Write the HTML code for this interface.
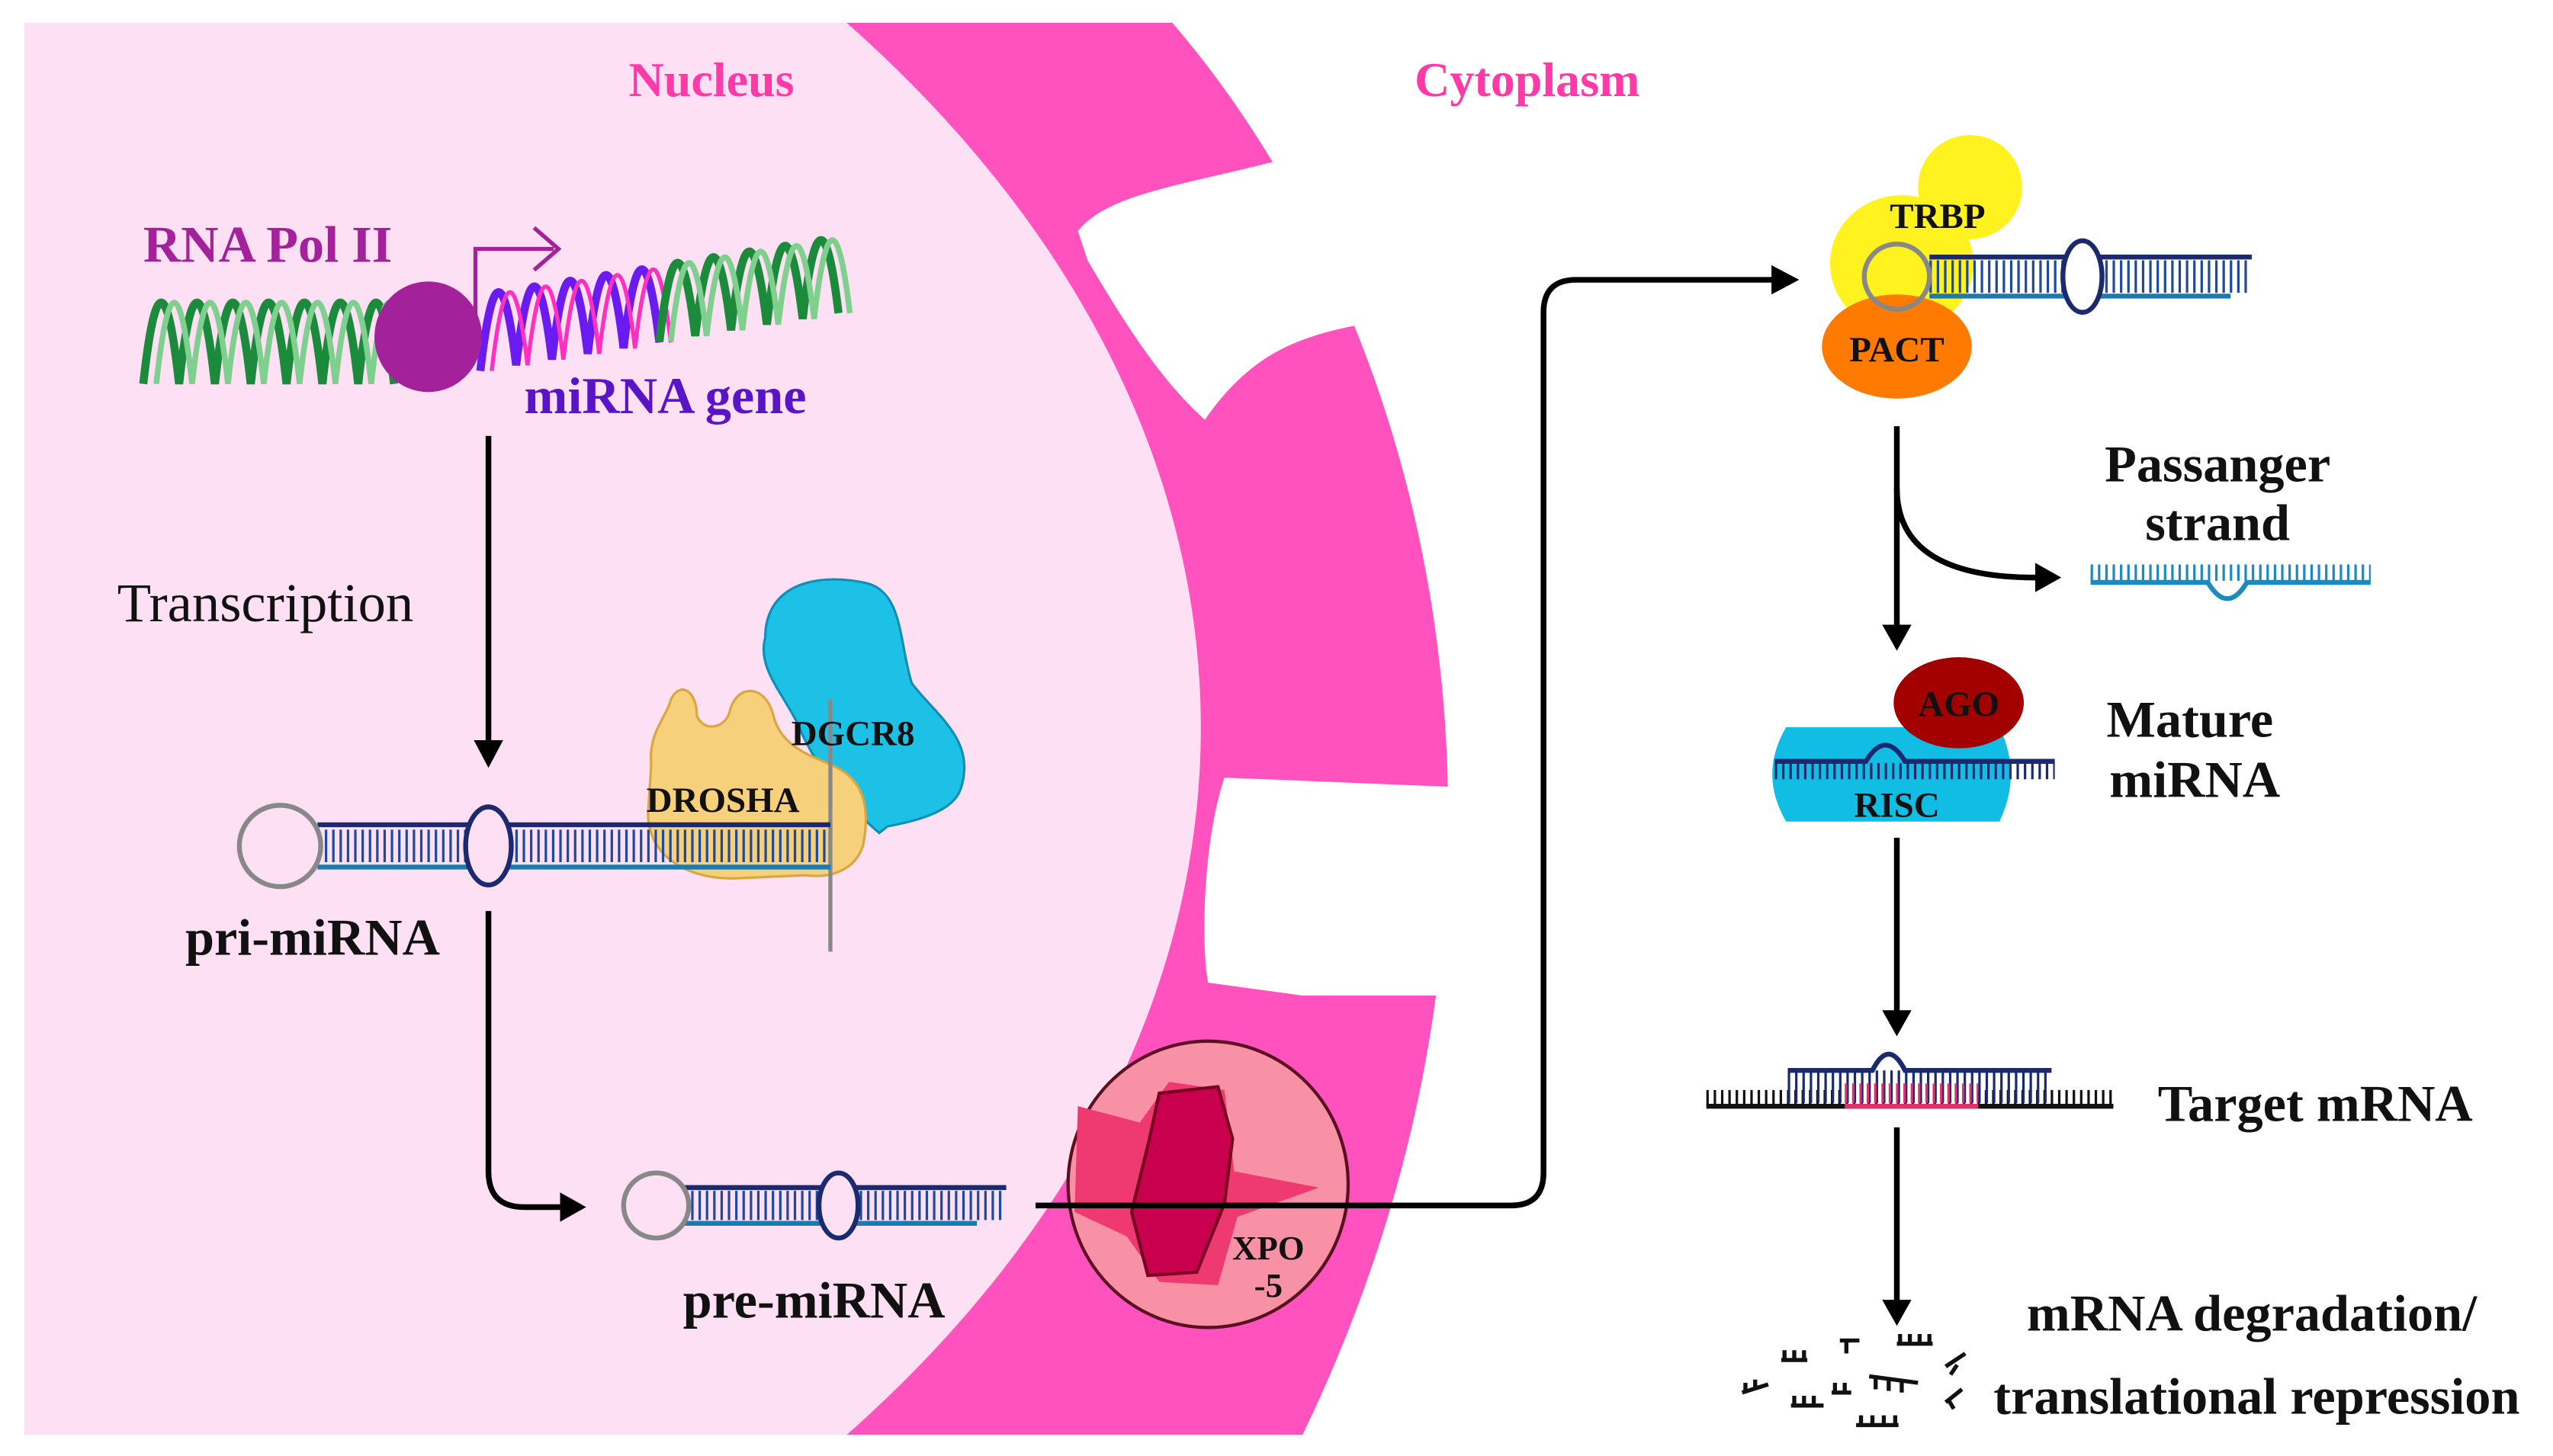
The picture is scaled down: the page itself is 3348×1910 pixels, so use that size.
<!DOCTYPE html>
<html><head><meta charset="utf-8"><style>
html,body{margin:0;padding:0;background:#fff;}
svg{display:block;}
text{font-family:"Liberation Serif",serif;}
</style></head><body>
<svg width="3348" height="1910" viewBox="0 0 1568 895" preserveAspectRatio="none" xmlns="http://www.w3.org/2000/svg">
<rect width="1568" height="895" fill="#fff"/>
<!-- nucleus -->
<path d="M15,14 L520,14 C815,275 805,630 520,882 L15,882 Z" fill="#fde0f3"/>
<path d="M520,14 L720,14 C880,200 965,540 800,882 L520,882 C805,630 815,275 520,14 Z" fill="#ff52bf"/>
<!-- pores -->
<path d="M662,142 C680,120 720,115 780,100 L900,75 L900,190 L850,197 C800,205 770,215 740,258 C720,240 700,215 668,160 Z" fill="#fff"/>
<path d="M752,478 L900,484 L900,612 L800,612 L742,604 C738,585 738,520 752,478 Z" fill="#fff"/>
<!-- labels top -->
<text x="437" y="59" font-size="30" font-weight="bold" fill="#ff3aa8" text-anchor="middle">Nucleus</text>
<text x="938" y="59" font-size="30" font-weight="bold" fill="#ff3aa8" text-anchor="middle">Cytoplasm</text>
<!-- DNA left -->
<path d="M88,236 q11,-100 22,0 q11,-100 22,0 q11,-100 22,0 q11,-100 22,0 q11,-100 22,0 q11,-100 22,0 q11,-100 22,0" fill="none" stroke="#1b8a3a" stroke-width="5"/>
<path d="M96,236 q11,-100 22,0 q11,-100 22,0 q11,-100 22,0 q11,-100 22,0 q11,-100 22,0 q11,-100 22,0 q11,-100 22,0" fill="none" stroke="#7fd08f" stroke-width="3.5"/>
<!-- DNA right -->
<path d="M295,228 q11,-95 22,-3.5 q11,-95 22,-3.5 q11,-95 22,-3.5 q11,-95 22,-3.5 q11,-95 22,-3.5" fill="none" stroke="#6a1cf0" stroke-width="5"/>
<path d="M302,228 q11,-95 22,-3.5 q11,-95 22,-3.5 q11,-95 22,-3.5 q11,-95 22,-3.5 q11,-95 22,-3.5" fill="none" stroke="#ff30c0" stroke-width="2.5"/>
<path d="M405,210 q11,-95 22,-3.5 q11,-95 22,-3.5 q11,-95 22,-3.5 q11,-95 22,-3.5 q11,-95 22,-3.5" fill="none" stroke="#1b8a3a" stroke-width="5"/>
<path d="M412,210 q11,-95 22,-3.5 q11,-95 22,-3.5 q11,-95 22,-3.5 q11,-95 22,-3.5 q11,-95 22,-3.5" fill="none" stroke="#7fd08f" stroke-width="3.5"/>
<ellipse cx="263" cy="207" rx="33" ry="34" fill="#a3219a"/>
<path d="M292,205 L292,153 L340,153 M328,140 L343,153 L328,166" fill="none" stroke="#a3219a" stroke-width="2.5"/>
<text x="88" y="161" font-size="32" font-weight="bold" fill="#a3219a">RNA Pol II</text>
<text x="322" y="254" font-size="32" font-weight="bold" fill="#5a14c8">miRNA gene</text>
<!-- transcription -->
<text x="72" y="382" font-size="34" fill="#111">Transcription</text>
<line x1="300" y1="268" x2="300" y2="458" stroke="#000" stroke-width="3.5"/>
<path d="M291,455 L300,472 L309,455 Z" fill="#000"/>
<!-- DGCR8 / DROSHA -->
<path d="M470,392 C470,360 500,352 530,358 C555,362 552,395 560,420 C575,440 600,455 590,485 C585,500 560,505 545,508 L540,512 C520,495 500,470 490,445 C480,425 465,410 470,392 Z" fill="#1ec1e6" stroke="#0e8fb8" stroke-width="1.5"/>
<path d="M400,470 C398,450 410,440 412,430 C418,418 428,425 428,440 C432,450 445,448 448,438 C452,420 470,420 475,440 C480,460 500,465 510,470 C530,478 535,495 530,520 C525,535 510,540 495,538 L450,540 C420,540 398,525 398,500 Z" fill="#f6d07a" stroke="#d9a640" stroke-width="1.5"/>
<line x1="510" y1="430" x2="510" y2="585" stroke="#888" stroke-width="2.5"/>
<text x="486" y="458" font-size="22" font-weight="bold" fill="#111">DGCR8</text>
<text x="397" y="499" font-size="22" font-weight="bold" fill="#111">DROSHA</text>
<!-- pri-miRNA -->
<line x1="195" y1="520" x2="510" y2="520" stroke="#1e4a9a" stroke-width="20" stroke-dasharray="1.5 3"/>
<line x1="195" y1="507" x2="510" y2="507" stroke="#1b2a6e" stroke-width="3"/>
<line x1="195" y1="533" x2="510" y2="533" stroke="#1b7bb0" stroke-width="3"/>
<circle cx="172" cy="520" r="25" fill="#fde0f3" stroke="#888" stroke-width="3"/>
<ellipse cx="300" cy="520" rx="14" ry="24" fill="#fde0f3" stroke="#1b2a6e" stroke-width="3"/>
<text x="192" y="587" font-size="32" font-weight="bold" fill="#111" text-anchor="middle">pri-miRNA</text>
<!-- arrow pri->pre -->
<path d="M300,560 L300,720 Q300,742 322,742 L346,742" fill="none" stroke="#000" stroke-width="3.5"/>
<path d="M344,733 L360,742 L344,751 Z" fill="#000"/>
<!-- pre-miRNA -->
<line x1="420" y1="741" x2="618" y2="741" stroke="#1e4a9a" stroke-width="18" stroke-dasharray="1.5 3"/>
<line x1="420" y1="730" x2="618" y2="730" stroke="#1b2a6e" stroke-width="3"/>
<line x1="420" y1="752" x2="600" y2="752" stroke="#1b7bb0" stroke-width="3"/>
<circle cx="403" cy="741" r="20" fill="#fde0f3" stroke="#888" stroke-width="3"/>
<ellipse cx="515" cy="741" rx="12" ry="20" fill="#fde0f3" stroke="#1b2a6e" stroke-width="3"/>
<text x="500" y="810" font-size="32" font-weight="bold" fill="#111" text-anchor="middle">pre-miRNA</text>
<!-- XPO-5 -->
<ellipse cx="742" cy="728" rx="86" ry="88" fill="#f890a6" stroke="#5a1020" stroke-width="2"/>
<path d="M662,680 L700,690 L718,665 L752,670 L758,720 L810,730 L760,748 L748,790 L712,788 L692,760 L660,745 Z" fill="#ee3a70"/>
<path d="M712,672 L748,668 L757,700 L752,740 L735,782 L705,784 L695,745 L706,700 Z" fill="#c8004e" stroke="#7a0020" stroke-width="2"/>
<text x="779" y="774" font-size="21" font-weight="bold" fill="#111" text-anchor="middle">XPO</text>
<text x="779" y="797" font-size="21" font-weight="bold" fill="#111" text-anchor="middle">-5</text>
<path d="M636,741 L928,741 Q948,741 948,721 L948,192 Q948,172 968,172 L1090,172" fill="none" stroke="#000" stroke-width="3.5"/>
<path d="M1088,163 L1105,172 L1088,181 Z" fill="#000"/>
<!-- TRBP/PACT complex -->
<circle cx="1210" cy="115" r="32" fill="#fff21e"/>
<ellipse cx="1168" cy="162" rx="44" ry="42" fill="#fff21e"/>
<ellipse cx="1165" cy="213" rx="46" ry="32" fill="#ff7a00"/>
<line x1="1185" y1="170" x2="1383" y2="170" stroke="#1e4a9a" stroke-width="20" stroke-dasharray="1.5 3"/>
<line x1="1185" y1="158" x2="1383" y2="158" stroke="#1b2a6e" stroke-width="3"/>
<line x1="1185" y1="182" x2="1370" y2="182" stroke="#1b7bb0" stroke-width="3"/>
<circle cx="1165" cy="170" r="20" fill="none" stroke="#888" stroke-width="3"/>
<ellipse cx="1279" cy="170" rx="12" ry="22" fill="#fff" stroke="#1b2a6e" stroke-width="3"/>
<text x="1190" y="140" font-size="22" font-weight="bold" fill="#111" text-anchor="middle">TRBP</text>
<text x="1165" y="222" font-size="22" font-weight="bold" fill="#111" text-anchor="middle">PACT</text>
<!-- arrows right column -->
<line x1="1165" y1="262" x2="1165" y2="385" stroke="#000" stroke-width="3.5"/>
<path d="M1156,384 L1165,400 L1174,384 Z" fill="#000"/>
<path d="M1165,300 Q1165,355 1250,355" fill="none" stroke="#000" stroke-width="3.5"/>
<path d="M1250,346 L1266,355 L1250,364 Z" fill="#000"/>
<text x="1362" y="296" font-size="32" font-weight="bold" fill="#111" text-anchor="middle">Passanger</text>
<text x="1362" y="332" font-size="32" font-weight="bold" fill="#111" text-anchor="middle">strand</text>
<!-- passenger strand -->
<line x1="1284" y1="352" x2="1456" y2="352" stroke="#1b8ac0" stroke-width="10" stroke-dasharray="1.5 3"/>
<path d="M1284,358 L1356,358 Q1368,378 1380,358 L1456,358" fill="none" stroke="#1b8ac0" stroke-width="3"/>
<!-- RISC -->
<path d="M1097,447 L1228,447 Q1242,476 1228,505 L1097,505 Q1080,476 1097,447 Z" fill="#12bde3"/>
<ellipse cx="1203" cy="432" rx="40" ry="28" fill="#a30000"/>
<line x1="1090" y1="474" x2="1262" y2="474" stroke="#1b2a6e" stroke-width="10" stroke-dasharray="1.5 3"/>
<path d="M1090,468 L1146,468 Q1158,448 1170,468 L1262,468" fill="none" stroke="#1b2a6e" stroke-width="3"/>
<text x="1203" y="440" font-size="22" font-weight="bold" fill="#111" text-anchor="middle">AGO</text>
<text x="1165" y="502" font-size="22" font-weight="bold" fill="#111" text-anchor="middle">RISC</text>
<text x="1345" y="453" font-size="32" font-weight="bold" fill="#111" text-anchor="middle">Mature</text>
<text x="1348" y="490" font-size="32" font-weight="bold" fill="#111" text-anchor="middle">miRNA</text>
<line x1="1165" y1="515" x2="1165" y2="622" stroke="#000" stroke-width="3.5"/>
<path d="M1156,621 L1165,637 L1174,621 Z" fill="#000"/>
<!-- target -->
<line x1="1048" y1="675" x2="1298" y2="675" stroke="#111" stroke-width="10" stroke-dasharray="1.5 3"/>
<line x1="1098" y1="668" x2="1260" y2="668" stroke="#1b2a6e" stroke-width="20" stroke-dasharray="1.5 3"/>
<line x1="1133" y1="672" x2="1215" y2="672" stroke="#e0306a" stroke-width="12" stroke-dasharray="1.5 3"/>
<line x1="1048" y1="680" x2="1298" y2="680" stroke="#111" stroke-width="3"/>
<line x1="1133" y1="680" x2="1215" y2="680" stroke="#e0306a" stroke-width="3"/>
<path d="M1098,658 L1150,658 Q1160,638 1170,658 L1260,658" fill="none" stroke="#1b2a6e" stroke-width="3"/>
<text x="1422" y="689" font-size="32" font-weight="bold" fill="#111" text-anchor="middle">Target mRNA</text>
<line x1="1165" y1="693" x2="1165" y2="800" stroke="#000" stroke-width="3.5"/>
<path d="M1156,799 L1165,815 L1174,799 Z" fill="#000"/>
<!-- fragments -->
<g fill="none" stroke="#111" stroke-width="2.5">
<path d="M1094,836 h16 M1096,830 v6 M1102,830 v6 M1108,830 v6"/>
<path d="M1130,824 h12 M1134,824 v8"/>
<path d="M1165,826 h22 M1167,820 v6 M1173,820 v6 M1179,820 v6 M1185,820 v6"/>
<path d="M1070,856 l16,-5 M1072,850 v6 M1078,848 v6"/>
<path d="M1100,864 h20 M1102,858 v6 M1108,858 v6 M1114,858 v6"/>
<path d="M1125,856 h12 M1127,850 v6 M1133,850 v6"/>
<path d="M1148,846 l30,4 M1152,846 v8 M1160,847 v8 M1168,848 v8"/>
<path d="M1195,840 l12,-8 M1198,845 l4,-6"/>
<path d="M1140,876 h26 M1143,870 v6 M1150,870 v6 M1157,870 v6 M1164,870 v6"/>
<path d="M1195,862 l10,-8 M1200,866 l-3,-5"/>
</g>
<text x="1383" y="818" font-size="32" font-weight="bold" fill="#111" text-anchor="middle">mRNA degradation/</text>
<text x="1386" y="869" font-size="32" font-weight="bold" fill="#111" text-anchor="middle">translational repression</text>
</svg>
</body></html>
